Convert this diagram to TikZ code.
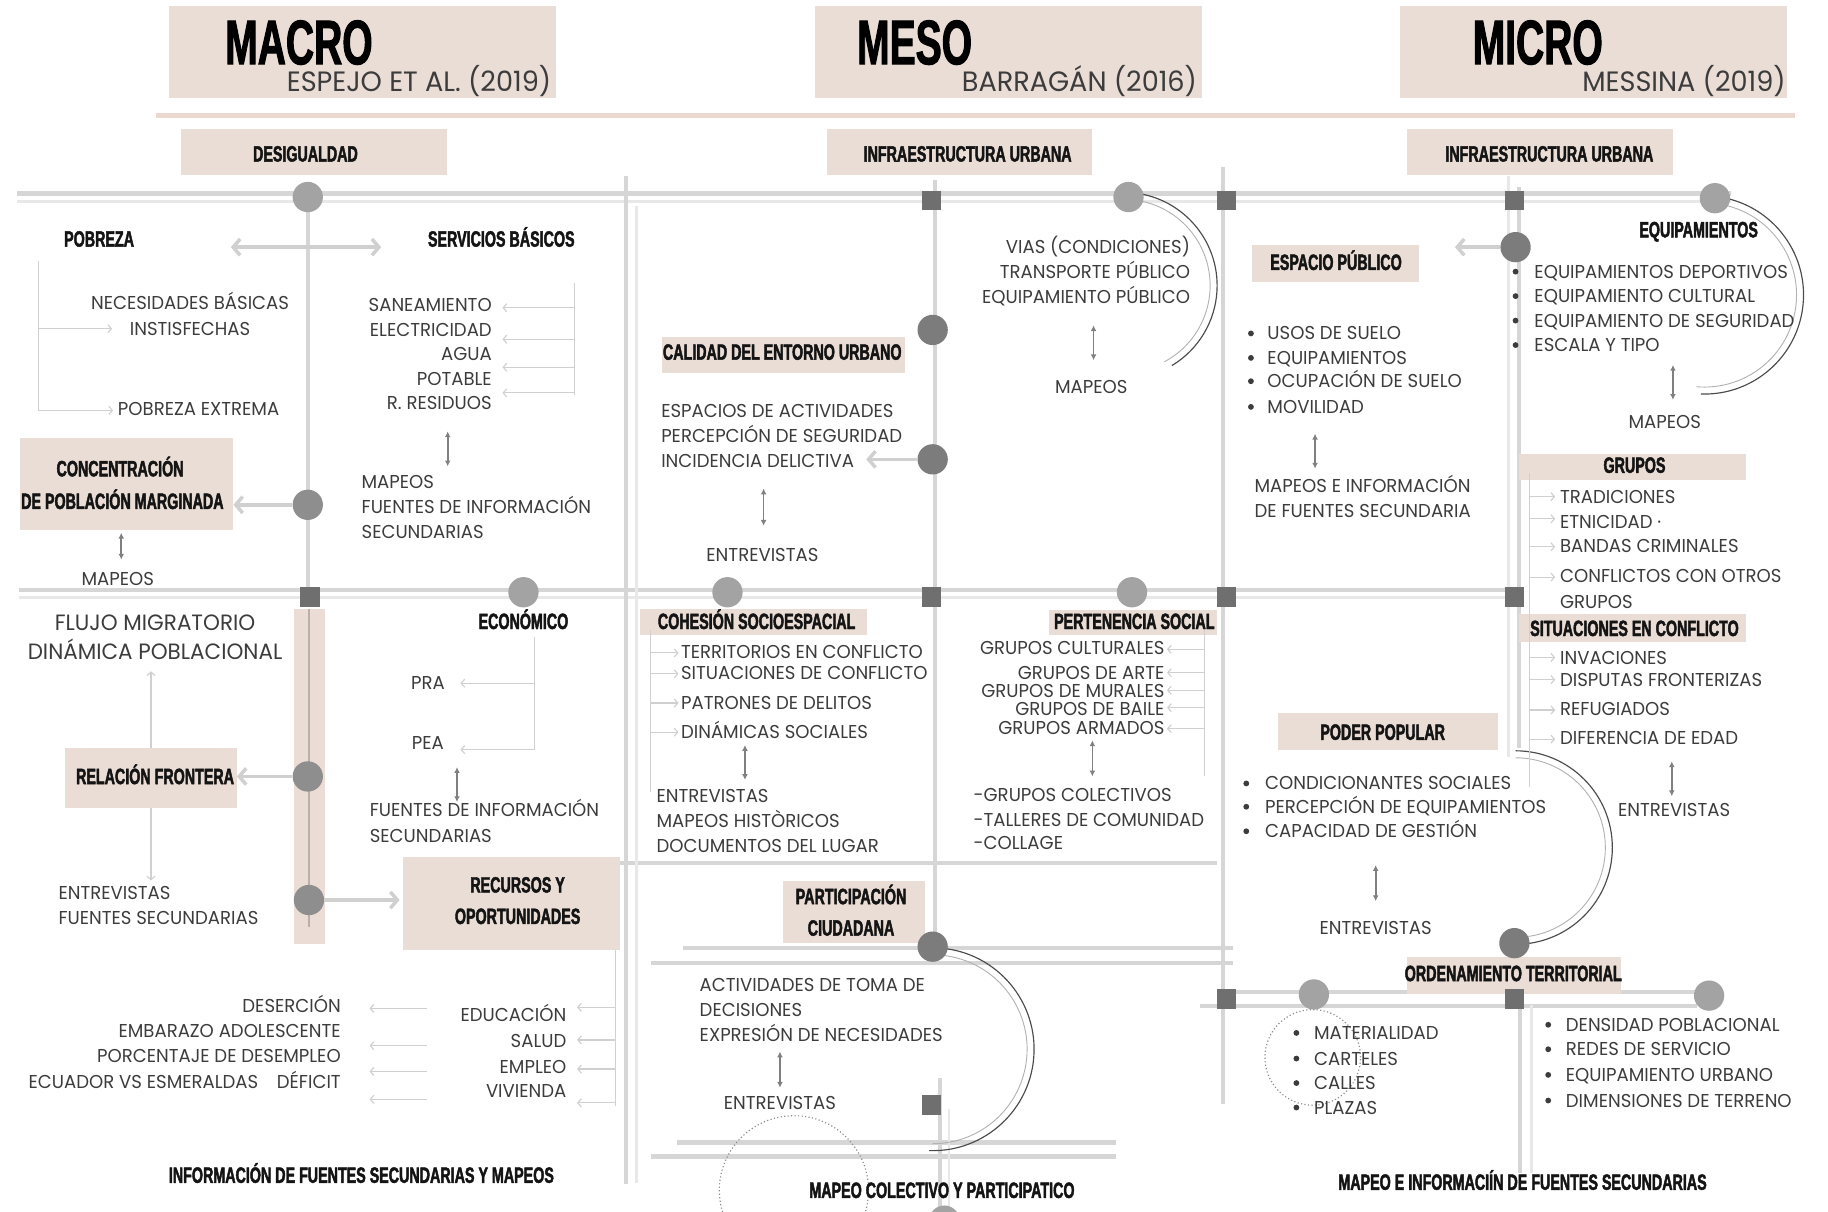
\documentclass[tikz,border=0pt]{standalone}
\usepackage{fontspec}
\usepackage{tikz}
\usetikzlibrary{arrows.meta,positioning,calc}
\setmainfont{Poppins}
\newfontfamily\bodyfont[FakeStretch=0.97]{Poppins}
\newfontfamily\headfont[FakeStretch=0.645,FakeBold=2]{Liberation Sans}
\newfontfamily\titlefont[FakeStretch=0.62,FakeBold=1.5]{Liberation Sans}
\definecolor{boxpink}{HTML}{EADDD6}
\definecolor{rulepink}{HTML}{EBD9D0}
\definecolor{bandpink}{HTML}{EBDCD6}
\definecolor{bandline}{HTML}{B8B0AD}
\definecolor{roadgray}{HTML}{D6D6D6}
\definecolor{roadlight}{HTML}{E8E8E8}
\definecolor{dotgray}{HTML}{7C7C7C}
\definecolor{dotmid}{HTML}{8E8E8E}
\definecolor{dotlight}{HTML}{A3A3A3}
\definecolor{sqgray}{HTML}{6F6F6F}
\definecolor{txtgray}{HTML}{3C3C3C}
\definecolor{arrgray}{HTML}{D0D0D0}
\definecolor{dblgray}{HTML}{808080}
\tikzset{
  txt/.style={font=\bodyfont\fontsize{16}{19}\selectfont, text=txtgray,
    inner sep=0pt, text height=11.2pt, text depth=0pt},
  bigtxt/.style={txt, font=\bodyfont\fontsize{19}{22}\selectfont, text height=13.3pt},
  subtxt/.style={txt, font=\bodyfont\fontsize{24}{28}\selectfont, text height=16.8pt},
  lbl/.style={font=\headfont\bfseries\fontsize{19}{22}\selectfont, text=black!92,
    inner sep=0pt, text height=13.1pt, text depth=0pt},
  headlbl/.style={font=\titlefont\bfseries\fontsize{54}{60}\selectfont, text=black,
    inner sep=0pt, text height=37.2pt, text depth=0pt},
  pinkbox/.style={fill=boxpink, inner sep=0pt},
  dot/.style={circle, fill=dotgray, minimum size=26pt, inner sep=0pt},
  mdot/.style={dot, fill=dotmid},
  ldot/.style={dot, fill=dotlight},
  sq/.style={fill=sqgray, minimum size=17pt, inner sep=0pt},
  bul/.style={circle, fill=txtgray, minimum size=5pt, inner sep=0pt},
  roadA/.style={draw=roadgray, line width=3.5pt},
  roadB/.style={draw=roadlight, line width=2.5pt},
  fatarr/.style={draw=arrgray, line width=3pt, -{Straight Barb[length=6pt,width=14pt]}},
  fatdbl/.style={draw=arrgray, line width=3pt,
    {Straight Barb[length=6pt,width=14pt]}-{Straight Barb[length=6pt,width=14pt]}},
  thinarr/.style={draw=arrgray, line width=1pt, -{Straight Barb[length=3pt,width=7pt]}},
  brk/.style={draw=arrgray, line width=1pt},
  dblarr/.style={draw=dblgray, line width=1.5pt,
    {Latex[length=5pt,width=5pt]}-{Latex[length=5pt,width=5pt]}},
  arcD/.style={draw=black!70, line width=1pt},
  arcL/.style={draw=black!30, line width=0.8pt},
  dotring/.style={draw=black!45, line width=1pt, dotted},
}
\begin{document}
\begin{tikzpicture}[x=1pt, y=1pt]
\useasboundingbox (0,0) rectangle (1568,-1039);
% ---- header ---------------------------------------------------------
\node[pinkbox, minimum width=332, minimum height=79] (hmacro) at (311,-44.5) {};
\node[pinkbox, minimum width=332, minimum height=79] (hmeso) at (865,-44.5) {};
\node[pinkbox, minimum width=332, minimum height=79] (hmicro) at (1367,-44.5) {};
\node[headlbl, anchor=west] (tmacro) at (193,-36.5) {MACRO};
\node[headlbl, anchor=west] (tmeso) at (735,-36.5) {MESO};
\node[headlbl, anchor=west] (tmicro) at (1263,-36.5) {MICRO};
\node[subtxt, anchor=east] (amacro) at (473,-70) {ESPEJO ET AL. (2019)};
\node[subtxt, anchor=east] (ameso) at (1027,-70) {BARRAGÁN (2016)};
\node[subtxt, anchor=east] (amicro) at (1532,-70) {MESSINA (2019)};
\draw[line width=4pt, rulepink] (134,-99) -- (1540,-99);
% ---- roads ----------------------------------------------------------
\draw[roadA] (15,-166) -- (1485,-166);
\draw[roadB] (15,-172.5) -- (1485,-172.5);
\draw[roadA] (16,-506) -- (1299,-506);
\draw[roadB] (16,-512.5) -- (1299,-512.5);
\draw[roadA] (518,-740) -- (1044,-740);
\draw[roadA] (586,-813) -- (1058,-813);
\draw[roadA] (558,-826) -- (1058,-826);
\draw[roadA] (581,-980) -- (957,-980);
\draw[roadA] (558,-992) -- (957,-992);
\draw[roadA] (1058,-851) -- (1456,-851);
\draw[roadA] (1029,-863) -- (1456,-863);
\draw[roadA] (264,-169) -- (264,-509);
\draw[roadA] (537,-151) -- (537,-1016);
\draw[roadB] (546,-177) -- (546,-1015);
\draw[roadA] (802,-154) -- (802,-812);
\draw[roadA] (806,-925) -- (806,-1039);
\draw[roadB] (814,-951) -- (814,-1039);
\draw[roadA] (1049,-143) -- (1049,-947);
\draw[roadB] (1294,-151) -- (1294,-649);
\draw[roadA] (1303,-160) -- (1303,-642);
\draw[roadA] (1304,-862) -- (1304,-1006);
\draw[roadB] (1314,-862) -- (1314,-1006);
\fill[bandpink] (252,-522) rectangle (279,-810);
\draw[line width=2pt, bandline] (265,-522) -- (265,-795);
% ---- arcs -----------------------------------------------------------
\draw[arcD] (964,-245) ++(87:80) arc[start angle=87, end angle=-59, radius=80];
\draw[arcL] (964,-245) ++(80:74) arc[start angle=80, end angle=-62, radius=74];
\draw[arcD] (1462,-253) ++(84:85) arc[start angle=84, end angle=-92, radius=85];
\draw[arcL] (1462,-253) ++(78:79) arc[start angle=78, end angle=-95, radius=79];
\draw[arcD] (1300,-727) ++(90:83) arc[start angle=90, end angle=-90, radius=83];
\draw[arcL] (1300,-727) ++(90:77) arc[start angle=90, end angle=-88, radius=77];
\draw[arcD] (800,-900) ++(88:87) arc[start angle=88, end angle=-92, radius=87];
\draw[arcL] (800,-900) ++(84:81) arc[start angle=84, end angle=-90, radius=81];
\draw[dotring] (681,-1021) circle (64);
\draw[dotring] (1126,-907) circle (41);
% ---- label boxes ----------------------------------------------------
\node[pinkbox, minimum width=228, minimum height=39] (desig) at (269,-130.5) {};
\node[pinkbox, minimum width=228, minimum height=39] (infme) at (823,-130.5) {};
\node[pinkbox, minimum width=228, minimum height=39] (infmi) at (1321,-130.5) {};
\node[pinkbox, minimum width=183, minimum height=79] (conc) at (108.5,-415.5) {};
\node[pinkbox, minimum width=147, minimum height=51] (relf) at (129.5,-667.5) {};
\node[pinkbox, minimum width=186, minimum height=80] (recur) at (439,-775) {};
\node[pinkbox, minimum width=208, minimum height=31] (calid) at (672,-304.5) {};
\node[pinkbox, minimum width=195, minimum height=23] (cohes) at (646.5,-533.5) {};
\node[pinkbox, minimum width=144, minimum height=22] (perten) at (972,-534) {};
\node[pinkbox, minimum width=121, minimum height=53] (partic) at (732.5,-782.5) {};
\node[pinkbox, minimum width=143, minimum height=32] (esppub) at (1145.5,-226) {};
\node[pinkbox, minimum width=195, minimum height=23] (grupos) at (1400.5,-400.5) {};
\node[pinkbox, minimum width=195, minimum height=24] (situac) at (1400.5,-539) {};
\node[pinkbox, minimum width=189, minimum height=31] (poder) at (1190.5,-627.5) {};
\node[pinkbox, minimum width=183, minimum height=32] (orden) at (1298.5,-837) {};
% ---- dots and squares -----------------------------------------------
\node[ldot] (dDes) at (264,-169) {};
\node[ldot] (dInf) at (968,-169) {};
\node[ldot] (dEqA) at (1471,-170) {};
\node[dot] (dEsp) at (1300,-212) {};
\node[dot] (dCal) at (800,-283) {};
\node[dot] (dInc) at (800,-394) {};
\node[mdot] (dCon) at (264,-433) {};
\node[ldot] (dEco) at (449,-508) {};
\node[ldot] (dCoh) at (624,-508) {};
\node[ldot] (dPer) at (971,-508) {};
\node[mdot] (dRel) at (264,-666) {};
\node[mdot] (dRec) at (265,-772) {};
\node[dot] (dPar) at (800,-812) {};
\node[dot] (dOrd) at (1299,-809) {};
\node[ldot] (dMat) at (1127,-853) {};
\node[ldot] (dDen) at (1466,-854) {};
\node[ldot] (dMap) at (810,-1047) {};
\foreach \px/\py [count=\i] in {799/172, 1052/172, 1299/172, 266/512, 799/512,
    1052/512, 1299/512, 1052/857, 1299/857, 799/948}
  \node[sq] (sq\i) at (\px,-\py) {};
% ---- titles of the boxes --------------------------------------------
\node[lbl] (desigt) at (262,-132) {DESIGUALDAD};
\node[lbl] (infmet) at (830,-132) {INFRAESTRUCTURA URBANA};
\node[lbl] (infmit) at (1329,-132) {INFRAESTRUCTURA URBANA};
\node[lbl] (conct1) at (103,-402) {CONCENTRACIÓN};
\node[lbl] (conct2) at (105,-430) {DE POBLACIÓN MARGINADA};
\node[lbl] (relft) at (133,-666) {RELACIÓN FRONTERA};
\node[lbl] (recurt1) at (444,-759) {RECURSOS Y};
\node[lbl] (recurt2) at (444,-786) {OPORTUNIDADES};
\node[lbl] (calidt) at (671,-302) {CALIDAD DEL ENTORNO URBANO};
\node[lbl] (cohest) at (649,-533) {COHESIÓN SOCIOESPACIAL};
\node[lbl] (pertent) at (973,-533) {PERTENENCIA SOCIAL};
\node[lbl] (partict1) at (730,-769) {PARTICIPACIÓN};
\node[lbl] (partict2) at (730,-796) {CIUDADANA};
\node[lbl] (esppubt) at (1146,-225) {ESPACIO PÚBLICO};
\node[lbl] (grupost) at (1402,-399) {GRUPOS};
\node[lbl] (situact) at (1402,-539) {SITUACIONES EN CONFLICTO};
\node[lbl] (podert) at (1186,-628) {PODER POPULAR};
\node[lbl] (ordent) at (1298,-835) {ORDENAMIENTO TERRITORIAL};
\node[lbl] (pobreza) at (85,-205) {POBREZA};
\node[lbl] (servb) at (430,-205) {SERVICIOS BÁSICOS};
\node[lbl] (econ) at (449,-533) {ECONÓMICO};
\node[lbl] (equip) at (1457,-197) {EQUIPAMIENTOS};
\node[lbl] (pieMacro) at (310,-1008) {INFORMACIÓN DE FUENTES SECUNDARIAS Y MAPEOS};
\node[lbl] (pieMeso) at (808,-1021) {MAPEO COLECTIVO Y PARTICIPATICO};
\node[lbl] (pieMicro) at (1306,-1014) {MAPEO E INFORMACIÍN DE FUENTES SECUNDARIAS};
% ---- macro: texts ---------------------------------------------------
\node[txt] (nec1) at (163,-260) {NECESIDADES BÁSICAS};
\node[txt] (nec2) at (163,-282) {INSTISFECHAS};
\node[txt, anchor=west] (pext) at (101,-351) {POBREZA EXTREMA};
\foreach \t [count=\i] in {SANEAMIENTO, ELECTRICIDAD, AGUA, POTABLE, R. RESIDUOS}
  \node[txt, anchor=east] (serv\i) at (422,{-262-21*(\i-1)}) {\t};
\foreach \t/\y [count=\i] in {MAPEOS/413, FUENTES DE INFORMACIÓN/435, SECUNDARIAS/456}
  \node[txt, anchor=west] (mapS\i) at (310,-\y) {\t};
\node[txt] (mapC) at (101,-497) {MAPEOS};
\node[bigtxt] (flujo1) at (133,-534) {FLUJO MIGRATORIO};
\node[bigtxt] (flujo2) at (133,-559) {DINÁMICA POBLACIONAL};
\node[txt, anchor=west] (entR1) at (50,-766) {ENTREVISTAS};
\node[txt, anchor=west] (entR2) at (50,-787) {FUENTES SECUNDARIAS};
\node[txt] (pra) at (367,-586) {PRA};
\node[txt] (pea) at (367,-637) {PEA};
\node[txt, anchor=west] (fueE1) at (317,-695) {FUENTES DE INFORMACIÓN};
\node[txt, anchor=west] (fueE2) at (317,-717) {SECUNDARIAS};
\foreach \t/\y [count=\i] in {EDUCACIÓN/871, SALUD/893, EMPLEO/915, VIVIENDA/936}
  \node[txt, anchor=east] (rec\i) at (486,-\y) {\t};
\foreach \t/\y [count=\i] in {DESERCIÓN/863, EMBARAZO ADOLESCENTE/884,
    PORCENTAJE DE DESEMPLEO/906, ECUADOR VS ESMERALDAS\quad DÉFICIT/928}
  \node[txt, anchor=east] (ind\i) at (292.5,-\y) {\t};
% ---- macro: connectors ----------------------------------------------
\coordinate (pbL) at (198,-212);
\coordinate (pbR) at (327,-212);
\draw[fatdbl] (pbL) -- (pbR);
\coordinate (pbT) at (33,-224);
\coordinate (pbB) at (33,-352);
\draw[brk] (pbT) -- (pbB);
\draw[thinarr] (pbT |- nec2) -- ([xshift=-15pt]nec2.west);
\draw[thinarr] (pbB) -- ([xshift=-4pt]pext.west |- pbB);
\draw[brk] (493,-243) -- (493,-339);
\foreach \y in {264,291,315,337}
  \draw[thinarr] (493,-\y) -- (431,-\y);
\draw[dblarr] (384,-370) -- (384,-400);
\draw[fatarr] (dCon) -- (dCon -| conc.east);
\draw[dblarr] (104,-457) -- (104,-480);
\draw[thinarr] (relf.north) -- ++(0,66);
\draw[fatarr] (dRel) -- (dRel -| relf.east);
\draw[thinarr] (relf.south) -- ++(0,-62);
\draw[fatarr] (dRec) -- ([xshift=-3pt]dRec -| recur.west);
\draw[brk] (458.5,-546) -- (458.5,-643);
\draw[thinarr] (458.5,-586) -- (395,-586);
\draw[thinarr] (458.5,-643) -- (395,-643);
\draw[dblarr] (392,-658) -- (392,-688);
\draw[brk] (528,-815) -- (528,-949);
\foreach \y in {864,892,917,946}
  \draw[thinarr] (528,-\y) -- (495,-\y);
\foreach \y in {865,897,919,943}
  \draw[thinarr] (366,-\y) -- (317,-\y);
% ---- meso: texts ----------------------------------------------------
\foreach \t [count=\i] in {VIAS (CONDICIONES), TRANSPORTE PÚBLICO, EQUIPAMIENTO PÚBLICO}
  \node[txt, anchor=east] (vias\i) at (1021,{-212-21.5*(\i-1)}) {\t};
\node[txt] (mapV) at (936,-332) {MAPEOS};
\foreach \t [count=\i] in {ESPACIOS DE ACTIVIDADES, PERCEPCIÓN DE SEGURIDAD, INCIDENCIA DELICTIVA}
  \node[txt, anchor=west] (esa\i) at (567,{-352.5-21.25*(\i-1)}) {\t};
\node[txt] (entC) at (654,-476) {ENTREVISTAS};
\foreach \t/\y [count=\i] in {TERRITORIOS EN CONFLICTO/559, SITUACIONES DE CONFLICTO/577,
    PATRONES DE DELITOS/603, DINÁMICAS SOCIALES/628}
  \node[txt, anchor=west] (coh\i) at (584,-\y) {\t};
\foreach \t/\y [count=\i] in {ENTREVISTAS/683, MAPEOS HISTÒRICOS/704, DOCUMENTOS DEL LUGAR/726}
  \node[txt, anchor=west] (cohM\i) at (563,-\y) {\t};
\foreach \t/\y [count=\i] in {GRUPOS CULTURALES/556, GRUPOS DE ARTE/577, GRUPOS DE MURALES/593,
    GRUPOS DE BAILE/608, GRUPOS ARMADOS/624}
  \node[txt, anchor=east] (per\i) at (999,-\y) {\t};
\foreach \t/\y [count=\i] in {-GRUPOS COLECTIVOS/682, -TALLERES DE COMUNIDAD/703, -COLLAGE/723}
  \node[txt, anchor=west] (perM\i) at (835,-\y) {\t};
\foreach \t/\y [count=\i] in {ACTIVIDADES DE TOMA DE/845, DECISIONES/866, EXPRESIÓN DE NECESIDADES/888}
  \node[txt, anchor=west] (act\i) at (600,-\y) {\t};
\node[txt] (entP) at (669,-946) {ENTREVISTAS};
% ---- meso: connectors -----------------------------------------------
\draw[dblarr] (938,-279) -- (938,-309);
\draw[fatarr] (dInc) -- ++(-57,0);
\draw[dblarr] (655,-419) -- (655,-451);
\draw[brk] (558,-540) -- (558,-679);
\foreach \y in {560,578,603,628}
  \draw[thinarr] (558,-\y) -- (582,-\y);
\draw[dblarr] (639,-639) -- (639,-669);
\draw[brk] (1033,-540) -- (1033,-666);
\foreach \y in {557,577,592,607,625}
  \draw[thinarr] (1033,-\y) -- (1001,-\y);
\draw[dblarr] (937,-635) -- (937,-666);
\draw[dblarr] (669,-902) -- (669,-933);
% ---- micro: texts ---------------------------------------------------
\foreach \t/\y [count=\i] in {USOS DE SUELO/286, EQUIPAMIENTOS/307, OCUPACIÓN DE SUELO/327, MOVILIDAD/349}{
  \node[bul] (espB\i) at (1073,-\y) {};
  \node[txt, anchor=west] (esp\i) at (1087,-\y) {\t};
}
\node[txt, anchor=west] (mapE1) at (1076,-417) {MAPEOS E INFORMACIÓN};
\node[txt, anchor=west] (mapE2) at (1076,-438) {DE FUENTES SECUNDARIA};
\foreach \t/\y [count=\i] in {EQUIPAMIENTOS DEPORTIVOS/233, EQUIPAMIENTO CULTURAL/254,
    EQUIPAMIENTO DE SEGURIDAD/275, ESCALA Y TIPO/296}{
  \node[bul] (eqB\i) at (1300,-\y) {};
  \node[txt, anchor=west] (eq\i) at (1316,-\y) {\t};
}
\node[txt] (mapQ) at (1428,-362) {MAPEOS};
\foreach \t/\y [count=\i] in {TRADICIONES/426, ETNICIDAD ·/448, BANDAS CRIMINALES/468,
    CONFLICTOS CON OTROS/494, GRUPOS/516, INVACIONES/564, DISPUTAS FRONTERIZAS/583,
    REFUGIADOS/608, DIFERENCIA DE EDAD/633}
  \node[txt, anchor=west] (gru\i) at (1338,-\y) {\t};
\node[txt] (entG) at (1436,-695) {ENTREVISTAS};
\foreach \t/\y [count=\i] in {CONDICIONANTES SOCIALES/672, PERCEPCIÓN DE EQUIPAMIENTOS/692,
    CAPACIDAD DE GESTIÓN/713}{
  \node[bul] (podB\i) at (1069,-\y) {};
  \node[txt, anchor=west] (pod\i) at (1085,-\y) {\t};
}
\node[txt] (entO) at (1180,-796) {ENTREVISTAS};
\foreach \t/\y [count=\i] in {MATERIALIDAD/886, CARTELES/908, CALLES/929, PLAZAS/950}{
  \node[bul] (matB\i) at (1112,-\y) {};
  \node[txt, anchor=west] (mat\i) at (1127,-\y) {\t};
}
\foreach \t/\y [count=\i] in {DENSIDAD POBLACIONAL/879, REDES DE SERVICIO/900,
    EQUIPAMIENTO URBANO/922, DIMENSIONES DE TERRENO/944}{
  \node[bul] (denB\i) at (1328,-\y) {};
  \node[txt, anchor=west] (den\i) at (1343,-\y) {\t};
}
% ---- micro: connectors ----------------------------------------------
\draw[fatarr] (dEsp) -- ++(-52,0);
\draw[dblarr] (1128,-372) -- (1128,-402);
\draw[dblarr] (1435,-313) -- (1435,-343);
\draw[brk] (1312,-406) -- (1312,-675);
\foreach \y in {426,445,469,495,564,583,609,634}
  \draw[thinarr] (1312,-\y) -- (1334,-\y);
\draw[dblarr] (1434,-653) -- (1434,-683);
\draw[dblarr] (1180,-742) -- (1180,-773);
\end{tikzpicture}
\end{document}
